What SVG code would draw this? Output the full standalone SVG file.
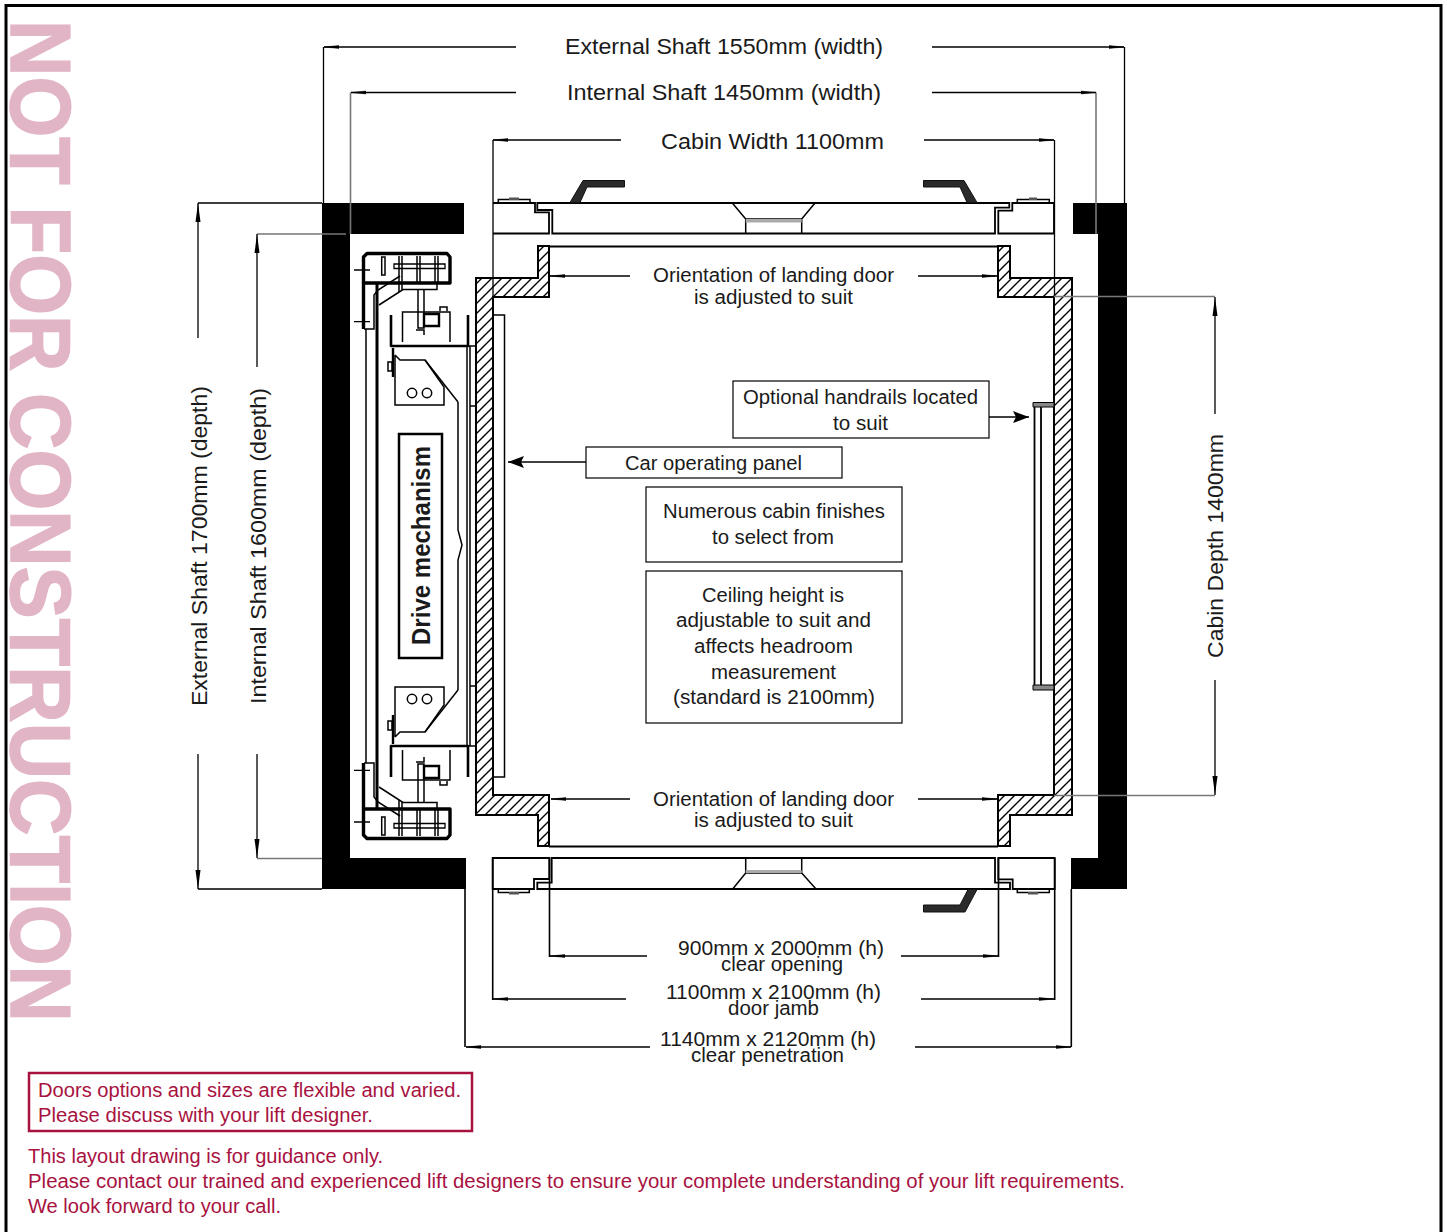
<svg xmlns="http://www.w3.org/2000/svg" xmlns:xlink="http://www.w3.org/1999/xlink" width="1447" height="1232" viewBox="0 0 1447 1232">
<style>
text{font-family:"Liberation Sans",Arial,sans-serif;fill:#1a1a1a;text-anchor:start}
.d{font-size:22px}.s{font-size:20px}.r{font-size:20px;fill:#a8123f}
.k{fill:none;stroke:#000;stroke-width:1.5}
.t{fill:none;stroke:#000;stroke-width:1.3}
.g{fill:none;stroke:#777;stroke-width:1.6}
.b{fill:none;stroke:#000;stroke-width:2.4}
.h{fill:none;stroke:#000;stroke-width:3.4;stroke-linejoin:round}
.box{fill:#fff;stroke:#000;stroke-width:1.2}
.wall{fill:#000}
.dim{fill:none;stroke:#000;stroke-width:1.3;marker-end:url(#a)}
.dimg{fill:none;stroke:#000;stroke-width:1.3}
.handle{fill:#2a2a2a;stroke:#111;stroke-width:1}
</style>
<defs>
<marker id="a" markerUnits="userSpaceOnUse" markerWidth="16" markerHeight="6" refX="15" refY="3" orient="auto"><path d="M0 1.6L15 3L0 4.400Z" fill="#000" stroke="#000" stroke-width=".5"/></marker>
<marker id="v" markerUnits="userSpaceOnUse" markerWidth="20" markerHeight="8" refX="19" refY="4" orient="auto"><path d="M0 1.500L19 4L0 6.500Z" fill="#000"/></marker>
<marker id="bold" markerUnits="userSpaceOnUse" markerWidth="18" markerHeight="14" refX="16" refY="6" orient="auto"><path d="M0 0L16 6L0 12L3 6Z" fill="#000"/></marker>
<pattern id="hatch" patternUnits="userSpaceOnUse" width="10" height="10"><path d="M-1 11L11 -1M-2 2L2 -2M8 12L12 8" stroke="#000" stroke-width="1.400"/></pattern>
<g id="mech">
<path class="h" d="M363.5 329V257L367 253.500H447L450 257V283H363.500"/>
<path class="t" d="M394 264H445V268.500H394Z"/>
<path class="k" d="M399 256V292M402 256V290M417 256V283M420 256V283M435 256V283M438 256V283M381.700 257H385V275H381.700Z"/>
<path class="k" d="M364 329H374V295L378 290L400 276"/>
<path class="k" d="M379 305L403 289.500H437V283"/>
<path class="k" d="M418 290V328H424V290M416 330H424V335"/>
<path class="k" d="M402.500 342V312H450V342"/>
<path class="b" d="M424 314H439V326H424Z"/>
<path class="k" d="M440 311V307H447V311"/>
<path class="h" d="M391 315V346H468V315" style="stroke-width:2.600"/>
<path class="k" d="M468 346H475"/>
<path class="b" d="M393 348V377"/>
<path class="k" d="M388 362H392V371H388Z"/>
<path class="k" d="M395 355V405H444V387L425 360H400L395 355"/>
<path class="k" d="M425 360L458 402"/>
<circle class="k" cx="412" cy="393" r="4.700"/><circle class="k" cx="427" cy="393" r="4.700"/>
<path class="t" d="M354 270H370M354 321.700H370"/>
</g>
</defs>
<rect width="1447" height="1232" fill="#fff"/>
<path d="M6 1232V5.500H1441V1232" fill="none" stroke="#000" stroke-width="3"/>
<text id="watermark" transform="translate(11 20) rotate(90)" textLength="1002" lengthAdjust="spacingAndGlyphs" style="font-size:85px;font-weight:bold;fill:#e2b5c6;stroke:#e2b5c6;stroke-width:1.500">NOT FOR CONSTRUCTION</text>

<g id="shaft">
<path class="wall" d="M322 203H464V234H350V858H466V889H322Z"/>
<path class="wall" d="M1073 203H1127V889H1071V858H1098V234H1073Z"/>
</g>

<g id="cabin">
<path d="M476 278H538V246H549V297H493V795H549V846H538V815H476Z" fill="url(#hatch)" stroke="#000" stroke-width="2"/>
<path d="M998 246H1010V278H1072V815H1010V846H998V795H1054V297H998Z" fill="url(#hatch)" stroke="#000" stroke-width="2"/>
<path class="k" d="M549 246.500H998M549 846.500H998" style="stroke-width:2"/>
<path class="k" d="M494 315H504.500V777H494"/>
<path class="k" d="M1034.500 407V686M1041 407V686" style="stroke-width:1.800"/>
<path d="M1033 402.500H1054V407H1033ZM1033 685H1054V690H1033Z" fill="#888" stroke="#000"/>
</g>

<g id="door-top">
<path class="k" d="M493 203H535V212.300H549V233.500H493M537.300 203H1009.300V207.700H995V233.500H552.300V210H537.300ZM1012.300 203H1054V233.500H998.300V210.700H1012.300Z" style="stroke-width:1.800"/>
<path class="k" d="M732.300 203L745.700 219H801.700L815 203M745.700 219V233M801.700 219V233"/>
<rect x="745.700" y="219" width="56" height="3.500" fill="#aaa"/>
<path class="k" d="M498.300 202.500V199.500H530V202.500M1017.300 202.500V199.500H1049.300V202.500"/>
<path d="M509 197.500H519V200H509ZM1029 197.500H1037V200H1029Z" fill="#555"/>
<path class="handle" d="M570 202.500L583 180.500H624.500V187H587L580 202.500Z"/>
<path class="handle" d="M977 202.500L964 180.500H923.500V187H960L967 202.500Z"/>
</g>

<g id="door-bottom">
<path class="k" d="M537.300 889V882.700H551.700V858H995V882.700H1010V889ZM492.700 858H549.300V879H534V889H492.700ZM998.300 858H1054.700V889H1012.700V879.300H998.300Z" style="stroke-width:1.800"/>
<path class="k" d="M732.700 889L745.700 873H801.700L816 889M745.700 873V858M801.700 873V858"/>
<rect x="745.700" y="870" width="56" height="3" fill="#aaa"/>
<path class="k" d="M498.300 889.500V892.500H529.300V889.500M1017.300 889.500V892.500H1049.300V889.500"/>
<path d="M509 892H519V894.500H509ZM1028 892H1038V894.500H1028Z" fill="#555"/>
<path class="handle" d="M977 889.500L965 912H923.500V905H960L968 889.500Z"/>
</g>

<g id="drive-mechanism">
<use xlink:href="#mech" href="#mech"/>
<use xlink:href="#mech" href="#mech" transform="matrix(1 0 0 -1 0 1092)"/>
<path class="k" d="M366 329V763"/>
<path class="k" d="M377 284V808" style="stroke-width:3"/>
<path class="k" d="M458 402V530L462 545L458 560V690"/>
<path class="k" d="M467 346V746M470 346V746"/>
<path class="k" d="M470 406H476M470 686H476"/>
<rect x="399" y="434" width="43" height="224" fill="#fff" stroke="#000" stroke-width="2.500"/>
<text transform="translate(430 645) rotate(-90)" textLength="199" lengthAdjust="spacingAndGlyphs" style="font-size:25px;font-weight:bold">Drive mechanism</text>
</g>

<g id="connectors">
<path class="dimg" d="M323.500 203V47M1124.500 203V47"/>
<path class="dim" d="M516 47H324"/><path class="dim" d="M932 47H1124"/>
<path class="g" d="M350.500 234V92.500M1096 234V92.500"/>
<path class="dim" d="M516 92.500H351"/><path class="dim" d="M932 92.500H1096"/>
<path class="dimg" d="M493 297V140M1054.500 297V140"/>
<path class="dim" d="M621 140H493"/><path class="dim" d="M924 140H1054"/>
<path class="dimg" d="M198 203H322M198 889H322"/>
<path class="dim" d="M198 338V203" style="marker-end:url(#v)"/><path class="dim" d="M198 754V889" style="marker-end:url(#v)"/>
<path class="g" d="M257 234H346M257 858.500H322"/>
<path class="dim" d="M257 367V234" style="marker-end:url(#v)"/><path class="dim" d="M257 754V858" style="marker-end:url(#v)"/>
<path class="g" d="M1054 296.500H1215M1054 795.500H1215"/>
<path class="dim" d="M1215 414V297" style="marker-end:url(#v)"/><path class="dim" d="M1215 680V795" style="marker-end:url(#v)"/>
<path class="dim" d="M630 276H550"/><path class="dim" d="M918 276H997"/>
<path class="dim" d="M630 799H551"/><path class="dim" d="M918 799H997"/>
<path class="dim" d="M586 462H508" style="marker-end:url(#bold)"/>
<path class="dim" d="M989 417H1029" style="marker-end:url(#bold)"/>
<path class="dimg" d="M549.500 858V957M998.500 858V957M492.700 858V1000M1054.700 858V1000M465 889V1047M1071.300 889V1047" style="stroke-width:1.600"/>
<path class="dim" d="M647 956H550"/><path class="dim" d="M901 956H998"/>
<path class="dim" d="M626 999H493"/><path class="dim" d="M921 999H1054"/>
<path class="dim" d="M650 1047H466"/><path class="dim" d="M915 1047H1071"/>
</g>

<g id="labels">
<text class="d" x="565" y="54" textLength="318" lengthAdjust="spacingAndGlyphs">External Shaft 1550mm (width)</text>
<text class="d" x="567" y="100" textLength="314" lengthAdjust="spacingAndGlyphs">Internal Shaft 1450mm (width)</text>
<text class="d" x="661" y="149" textLength="223" lengthAdjust="spacingAndGlyphs">Cabin Width 1100mm</text>
<text class="s" x="653" y="282" textLength="241" lengthAdjust="spacingAndGlyphs">Orientation of landing door</text>
<text class="s" x="694" y="304" textLength="159" lengthAdjust="spacingAndGlyphs">is adjusted to suit</text>
<text class="s" x="653" y="806" textLength="241" lengthAdjust="spacingAndGlyphs">Orientation of landing door</text>
<text class="s" x="694" y="827" textLength="159" lengthAdjust="spacingAndGlyphs">is adjusted to suit</text>
<text class="d" transform="translate(207 706) rotate(-90)" textLength="320" lengthAdjust="spacingAndGlyphs">External Shaft 1700mm (depth)</text>
<text class="d" transform="translate(266 704) rotate(-90)" textLength="316" lengthAdjust="spacingAndGlyphs">Internal Shaft 1600mm (depth)</text>
<text class="d" transform="translate(1223 658) rotate(-90)" textLength="224" lengthAdjust="spacingAndGlyphs">Cabin Depth 1400mm</text>
<text class="s" x="678" y="955" textLength="206" lengthAdjust="spacingAndGlyphs">900mm x 2000mm (h)</text>
<text class="s" x="721" y="971" textLength="122" lengthAdjust="spacingAndGlyphs">clear opening</text>
<text class="s" x="666" y="999" textLength="215" lengthAdjust="spacingAndGlyphs">1100mm x 2100mm (h)</text>
<text class="s" x="728" y="1015" textLength="91" lengthAdjust="spacingAndGlyphs">door jamb</text>
<text class="s" x="660" y="1046" textLength="216" lengthAdjust="spacingAndGlyphs">1140mm x 2120mm (h)</text>
<text class="s" x="691" y="1062" textLength="153" lengthAdjust="spacingAndGlyphs">clear penetration</text>
</g>

<g id="note-handrails">
<rect class="box" x="733" y="381" width="256" height="57"/>
<text class="s" x="743" y="404" textLength="235" lengthAdjust="spacingAndGlyphs">Optional handrails located</text>
<text class="s" x="833" y="430" textLength="55" lengthAdjust="spacingAndGlyphs">to suit</text>
</g>
<g id="note-panel">
<rect class="box" x="586" y="447" width="256" height="31"/>
<text class="s" x="625" y="470" textLength="177" lengthAdjust="spacingAndGlyphs">Car operating panel</text>
</g>
<g id="note-finishes">
<rect class="box" x="646" y="487" width="256" height="75"/>
<text class="s" x="663" y="518" textLength="222" lengthAdjust="spacingAndGlyphs">Numerous cabin finishes</text>
<text class="s" x="712" y="544" textLength="122" lengthAdjust="spacingAndGlyphs">to select from</text>
</g>
<g id="note-ceiling">
<rect class="box" x="646" y="571" width="256" height="152"/>
<text class="s" x="702" y="602" textLength="142" lengthAdjust="spacingAndGlyphs">Ceiling height is</text>
<text class="s" x="676" y="627" textLength="195" lengthAdjust="spacingAndGlyphs">adjustable to suit and</text>
<text class="s" x="694" y="653" textLength="159" lengthAdjust="spacingAndGlyphs">affects headroom</text>
<text class="s" x="711" y="679" textLength="125" lengthAdjust="spacingAndGlyphs">measurement</text>
<text class="s" x="673" y="704" textLength="202" lengthAdjust="spacingAndGlyphs">(standard is 2100mm)</text>
</g>
<g id="note-doors">
<rect x="29" y="1073" width="443" height="58" fill="#fff" stroke="#a8123f" stroke-width="2.500"/>
<text class="r" x="38" y="1097" textLength="423" lengthAdjust="spacingAndGlyphs">Doors options and sizes are flexible and varied.</text>
<text class="r" x="38" y="1122" textLength="335" lengthAdjust="spacingAndGlyphs">Please discuss with your lift designer.</text>
</g>
<g id="disclaimer">
<text class="r" x="28" y="1163" textLength="355" lengthAdjust="spacingAndGlyphs">This layout drawing is for guidance only.</text>
<text class="r" x="28" y="1188" textLength="1097" lengthAdjust="spacingAndGlyphs">Please contact our trained and experienced lift designers to ensure your complete understanding of your lift requirements.</text>
<text class="r" x="28" y="1213" textLength="253" lengthAdjust="spacingAndGlyphs">We look forward to your call.</text>
</g>
</svg>
